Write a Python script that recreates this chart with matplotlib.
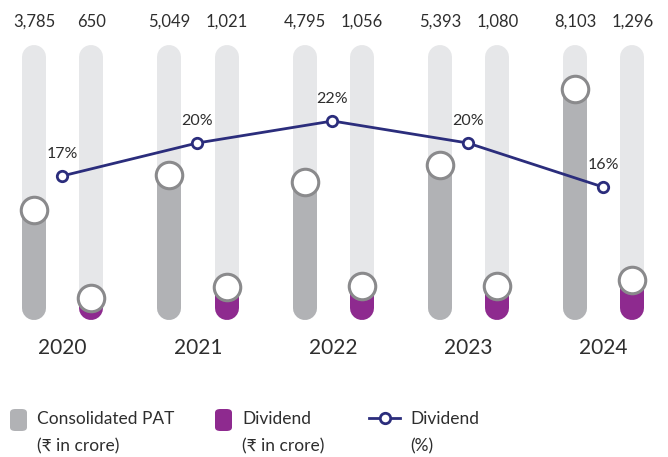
import matplotlib
matplotlib.use("Agg")
import matplotlib.pyplot as plt
from matplotlib.patches import FancyBboxPatch
from matplotlib.lines import Line2D

plt.rcParams['font.family'] = ['Lato', 'DejaVu Sans']

# Data
years = ["2020", "2021", "2022", "2023", "2024"]
pat = [3785, 5049, 4795, 5393, 8103]          # Consolidated PAT (₹ in crore)
dividend = [650, 1021, 1056, 1080, 1296]      # Dividend (₹ in crore)
dividend_pct = [17, 20, 22, 20, 16]           # Dividend (%)
pat_labels = ["3,785", "5,049", "4,795", "5,393", "8,103"]
div_labels = ["650", "1,021", "1,056", "1,080", "1,296"]

# Styling
C_TRACK = "#E6E7E9"
C_PAT = "#B1B2B5"
C_DIV = "#8E2A8F"
C_LINE = "#2B2D7C"
C_EDGE = "#8A8A8C"
C_TEXT = "#2E2E2E"

W, H, DPI = 668, 457, 100
fig = plt.figure(figsize=(W / DPI, H / DPI), dpi=DPI)
ax = fig.add_axes([0, 0, 1, 1])
ax.set_xlim(-0.2514, 4.6876)
ax.set_ylim(-5036, 11286)
ax.axis("off")

ax2 = ax.twinx()
ax2.set_ylim(-8.545, 33.0)
ax2.axis("off")

bar_px = 24
bar_lw = bar_px * 72 / DPI
track_top = 9250
track_bottom = 286
div_offset = 0.425
mid_offset = 0.2125

for i in range(len(years)):
    for x, v, col, lab in [(i, pat[i], C_PAT, pat_labels[i]),
                           (i + div_offset, dividend[i], C_DIV, div_labels[i])]:
        ax.plot([x, x], [track_bottom, track_top], color=C_TRACK, lw=bar_lw,
                solid_capstyle="round", zorder=1)
        ax.plot([x, x], [track_bottom, v], color=col, lw=bar_lw,
                solid_capstyle="round", zorder=2)
        ax.plot([x], [v], marker="o", ms=26.5 * 72 / DPI, mfc="white",
                mec=C_EDGE, mew=2.2, zorder=3)
        ax.text(x, 10500, lab, ha="center", va="center", fontsize=12,
                color=C_TEXT)
    ax.text(i + mid_offset, -1143, years[i], ha="center", va="center",
            fontsize=15, color=C_TEXT)

xs = [i + 0.207 for i in range(len(years))]
ax2.plot(xs, dividend_pct, color=C_LINE, lw=2, marker="o", ms=7.5,
         mfc="white", mec=C_LINE, mew=2, zorder=5)
for x, p in zip(xs, dividend_pct):
    ax2.text(x, p + 2.0, f"{p}%", ha="center", va="center", fontsize=11.5,
             color=C_TEXT, zorder=6)

# Legend
def px(x, y):
    return x / W, 1 - y / H

for (x0, col) in [(10, C_PAT), (215, C_DIV)]:
    fx, fy = px(x0, 431)
    fig.patches.append(FancyBboxPatch((fx, fy), 17 / W, 22 / H,
                                      boxstyle="round,pad=0,rounding_size=0.008",
                                      transform=fig.transFigure, fc=col,
                                      ec="none"))

lx0, lx1 = px(369, 418)[0], px(400, 418)[0]
ly = px(0, 418)[1]
fig.lines.append(Line2D([lx0, lx1], [ly, ly], transform=fig.transFigure,
                        color=C_LINE, lw=2))
fig.lines.append(Line2D([px(385, 0)[0]], [ly], transform=fig.transFigure,
                        marker="o", ms=7.5, mfc="white", mec=C_LINE, mew=2))

legend_items = [(37, "Consolidated PAT", "(₹ in crore)"),
                (242, "Dividend", "(₹ in crore)"),
                (410, "Dividend", "(%)")]
for x0, l1, l2 in legend_items:
    fig.text(*px(x0, 419), l1, ha="left", va="center", fontsize=12.5,
             color=C_TEXT)
    fig.text(*px(x0, 446), l2, ha="left", va="center", fontsize=12.5,
             color=C_TEXT)

fig.savefig("out.png", dpi=DPI, facecolor="white")
